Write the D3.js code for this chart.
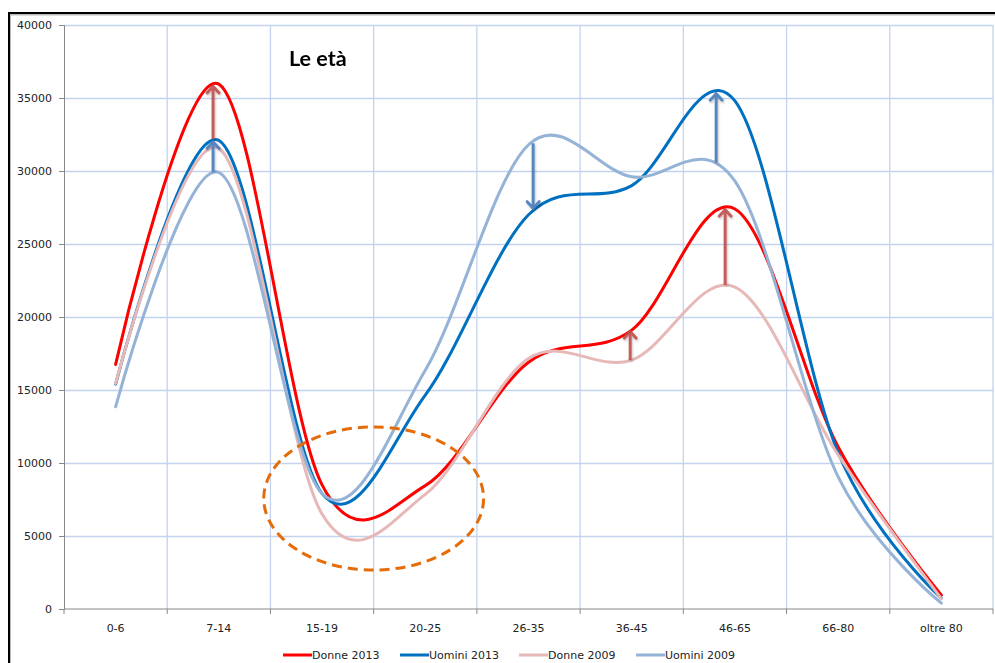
<!DOCTYPE html>
<html>
<head>
<meta charset="utf-8">
<script src="https://cdn.jsdelivr.net/npm/d3@7"></script>
<style>
  html, body { margin: 0; padding: 0; background: #fff; }
  svg { display: block; }
</style>
</head>
<body>
<svg id="chart" width="995" height="663" font-family="DejaVu Sans, Verdana, sans-serif"></svg>
<script>
// Age groups (x categories)
const categories = ["0-6", "7-14", "15-19", "20-25", "26-35", "36-45", "46-65", "66-80", "oltre 80"];

// Population per age group
const donne2013  = [16750, 35950, 8500, 8450, 16900, 19100, 27400, 11100, 950];
const uomini2013 = [15400, 32100, 7900, 14650, 27000, 29000, 34800, 10700, 750];
const donne2009  = [15450, 31550, 6500, 7850, 17150, 17050, 22050, 10550, 700];
const uomini2009 = [13850, 29900, 7900, 16350, 31800, 29600, 29300, 9050, 400];

const seriesNames  = ["Donne 2013", "Uomini 2013", "Donne 2009", "Uomini 2009"];
const seriesValues = [donne2013, uomini2013, donne2009, uomini2009];
const seriesColors = ["#ff0000", "#0070c0", "#e6b9b8", "#95b3d7"];

const yTicks = [0, 5000, 10000, 15000, 20000, 25000, 30000, 35000, 40000];

// Change arrows: position as a (fractional) category index, start value, end value
const arrowPos   = [0.944, 0.944, 4.045, 5.818, 4.985, 5.905];
const arrowFrom  = [32200, 29950, 31900, 30600, 17050, 22200];
const arrowTo    = [35900, 32100, 27350, 35400, 19100, 27450];
const arrowKind  = ["red", "blue", "blue", "blue", "red", "red"];

// Highlight ellipse around the 15-25 dip (centre index/value, half-width in categories, half-height in value)
const ringCenter = [2.5, 7570];
const ringRadius = [1.065, 4900];

const title = "Le età";

const svg = d3.select("#chart");
const plot = { left: 64, right: 993, top: 25, bottom: 609 };

const xBand = d3.scaleBand().domain(categories).range([plot.left, plot.right]).padding(0);
const xIdx  = d3.scaleLinear().domain([-0.5, categories.length - 0.5]).range([plot.left, plot.right]);
const y     = d3.scaleLinear().domain([0, 40000]).range([plot.bottom, plot.top]);

const defs = svg.append("defs");
const shadow = defs.append("filter").attr("id", "soft").attr("x", "-20%").attr("y", "-20%").attr("width", "140%").attr("height", "140%");
shadow.append("feDropShadow").attr("dx", 1).attr("dy", 1.5).attr("stdDeviation", 1.2).attr("flood-color", "#000").attr("flood-opacity", 0.25);

// Outer frame of the chart object
svg.append("rect")
  .attr("x", 10).attr("y", 14.5).attr("width", 1100).attr("height", 800)
  .attr("fill", "none").attr("stroke", "#bbb").attr("stroke-width", 2);
svg.append("rect")
  .attr("x", 9).attr("y", 13).attr("width", 1100).attr("height", 800)
  .attr("fill", "none").attr("stroke", "#000").attr("stroke-width", 2);

// Grid
const grid = svg.append("g").attr("stroke", "#c3d3ee").attr("stroke-width", 1.3);
yTicks.filter(v => v > 0).forEach(v => {
  grid.append("line").attr("x1", plot.left).attr("x2", plot.right)
    .attr("y1", Math.round(y(v)) + 0.5).attr("y2", Math.round(y(v)) + 0.5);
});
categories.forEach(c => {
  const xr = xBand(c) + xBand.bandwidth();
  grid.append("line").attr("x1", xr).attr("x2", xr).attr("y1", plot.top).attr("y2", plot.bottom);
});

// Y axis
const yAxis = svg.append("g").attr("transform", `translate(${plot.left},0)`)
  .call(d3.axisLeft(y).tickValues(yTicks).tickSize(5).tickPadding(7).tickFormat(d3.format("d")));
yAxis.attr("font-family", null);
yAxis.select(".domain").attr("stroke", "#888");
yAxis.selectAll(".tick line").attr("stroke", "#888");
yAxis.selectAll("text").attr("font-size", 11).attr("fill", "#222");

// X axis: ticks on category boundaries, labels centred in each band
const xAxis = svg.append("g").attr("transform", `translate(0,${plot.bottom})`);
xAxis.append("line").attr("x1", plot.left).attr("x2", plot.right).attr("stroke", "#888");
const bounds = [plot.left].concat(categories.map(c => xBand(c) + xBand.bandwidth()));
xAxis.selectAll("line.tk").data(bounds).join("line").attr("class", "tk")
  .attr("x1", d => d).attr("x2", d => d).attr("y1", 0).attr("y2", 5).attr("stroke", "#888");
xAxis.selectAll("text").data(categories).join("text")
  .attr("x", d => xBand(d) + xBand.bandwidth() / 2).attr("y", 23)
  .attr("text-anchor", "middle").attr("font-size", 11).attr("fill", "#222").text(d => d);

// Series lines (smoothed)
const line = d3.line()
  .x((d, i) => xIdx(i))
  .y(d => y(d))
  .curve(d3.curveCatmullRom.alpha(0));

const lines = svg.append("g").attr("fill", "none");
seriesValues.forEach((vals, k) => {
  lines.append("path").datum(vals)
    .attr("d", line)
    .attr("stroke", seriesColors[k])
    .attr("stroke-width", 3)
    .attr("stroke-linejoin", "round")
    .attr("stroke-linecap", "round");
});

// Change arrows
const arrowColor = { red: "#c0504d", blue: "#4a7ebb" };
const arrows = svg.append("g").attr("fill", "none").attr("filter", "url(#soft)");
arrowPos.forEach((p, i) => {
  const ax = xIdx(p), y0 = y(arrowFrom[i]), y1 = y(arrowTo[i]);
  const dir = y1 < y0 ? 1 : -1;
  const g = arrows.append("g").attr("stroke", arrowColor[arrowKind[i]]).attr("stroke-width", 3).attr("opacity", 0.9);
  g.append("line").attr("x1", ax).attr("x2", ax).attr("y1", y0).attr("y2", y1 + dir * 1);
  g.append("path")
    .attr("d", `M${ax - 6},${y1 + dir * 8} L${ax},${y1 + dir * 1.5} L${ax + 6},${y1 + dir * 8}`)
    .attr("stroke-linejoin", "miter").attr("stroke-linecap", "round");
});

// Dashed highlight ellipse
svg.append("ellipse")
  .attr("cx", xIdx(ringCenter[0]))
  .attr("cy", y(ringCenter[1]))
  .attr("rx", xIdx(ringRadius[0]) - xIdx(0))
  .attr("ry", y(0) - y(ringRadius[1]))
  .attr("fill", "none")
  .attr("stroke", "#e46c0a")
  .attr("stroke-width", 3)
  .attr("stroke-dasharray", "10,6");

// Title
svg.append("text")
  .attr("x", 289).attr("y", 66)
  .attr("font-family", "Lato, 'Open Sans', sans-serif")
  .attr("font-weight", "bold").attr("font-size", 21.5)
  .attr("fill", "#000")
  .text(title);

// Legend
const legend = svg.append("g").attr("transform", "translate(0,655)");
const legendX = [283, 400, 519, 636];
seriesNames.forEach((n, k) => {
  const g = legend.append("g").attr("transform", `translate(${legendX[k]},0)`);
  g.append("line").attr("x1", 0).attr("x2", 29).attr("y1", 0).attr("y2", 0)
    .attr("stroke", seriesColors[k]).attr("stroke-width", 3);
  g.append("text").attr("x", 29).attr("y", 4).attr("font-size", 11).attr("fill", "#222").text(n);
});
</script>
</body>
</html>
